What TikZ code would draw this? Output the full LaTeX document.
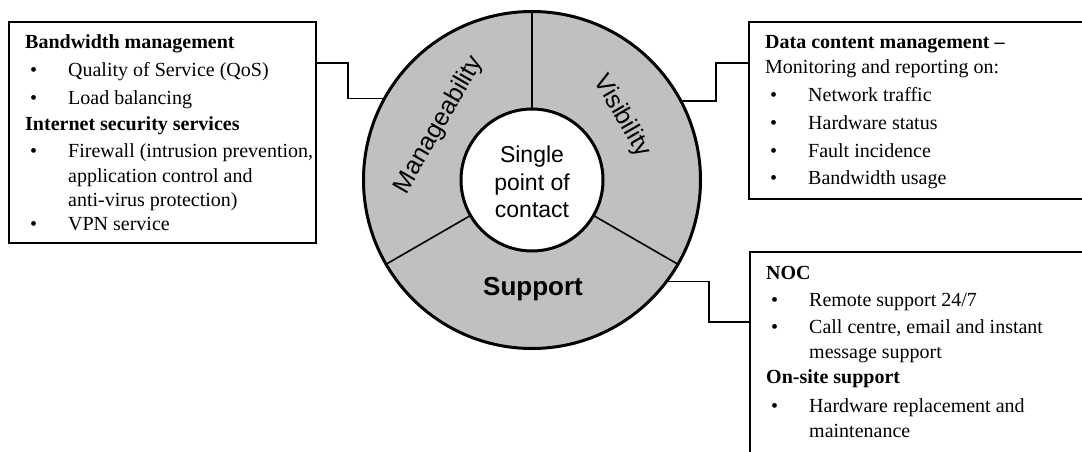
\documentclass[tikz,border=0pt]{standalone}
\usepackage{fontspec}
\setmainfont{Liberation Serif}
\setsansfont{Liberation Sans}
\definecolor{ringgray}{RGB}{192,192,192}
% bulleted entry: bullet, then the text at a fixed indent
\newcommand{\itm}[1]{\makebox[43pt][l]{\hspace{5pt}\textbullet}#1}
\newcommand{\cnt}[1]{\hspace*{43pt}#1}
\begin{document}
\begin{tikzpicture}[x=1pt,y=-1pt,
  box/.style={draw=black, line width=1.5, rectangle, inner sep=0, outer sep=0, anchor=north west},
  conn/.style={draw=black, line width=1.5},
  divline/.style={draw=black, line width=1.6},
  hd/.style={anchor=base west, inner sep=0, font=\fontsize{20}{23}\selectfont\bfseries},
  tx/.style={anchor=base west, inner sep=0, font=\fontsize{20}{23}\selectfont},
  ringlbl/.style={inner sep=0, font=\sffamily\fontsize{25}{29}\selectfont},
  disc/.style={circle, draw=black, line width=3, inner sep=0, outer sep=0},
]
\useasboundingbox (0,0) rectangle (1082,452);
\clip (0,0) rectangle (1082,452);

% outer ring and centre disc
\node[disc, fill=ringgray, minimum size=337] (ring) at (532,180) {};
\node[disc, fill=white, minimum size=142] (hub) at (532,180) {};
\draw[divline] (hub.90) -- (ring.90);
\draw[divline] (hub.210) -- (ring.210);
\draw[divline] (hub.330) -- (ring.330);

% ring labels
\node[ringlbl, rotate=60] (mlbl) at (439,125) {Manageability};
\node[ringlbl, rotate=-60] (vlbl) at (622,116) {Visibility};
\node[ringlbl, font=\sffamily\bfseries\fontsize{26}{30}\selectfont, anchor=base] (slbl) at (533,295) {Support};
\node[inner sep=0, align=center, font=\sffamily\fontsize{23}{27.5}\selectfont] (hubtxt) at (532,182) {Single\\point of\\contact};

% left box: manageability
\node[box, minimum width=307, minimum height=221] (lbox) at (9,22) {};
\node[hd] (l1) at (25,49) {Bandwidth management};
\node[tx] (l2) at (25,77) {\itm{Quality of Service (QoS)}};
\node[tx] (l3) at (25,104) {\itm{Load balancing}};
\node[hd] (l4) at (25,130) {Internet security services};
\node[tx] (l5) at (25,157) {\itm{Firewall (intrusion prevention,}};
\node[tx] (l6) at (25,182) {\cnt{application control and}};
\node[tx] (l7) at (25,206) {\cnt{anti-virus protection)}};
\node[tx] (l8) at (25,230) {\itm{VPN service}};

% top right box: visibility
\node[box, minimum width=360, minimum height=177] (tbox) at (749,22) {};
\node[hd] (t1) at (765,49) {Data content management –};
\node[tx] (t2) at (765,74) {Monitoring and reporting on:};
\node[tx] (t3) at (765,102) {\itm{Network traffic}};
\node[tx] (t4) at (765,129) {\itm{Hardware status}};
\node[tx] (t5) at (765,157) {\itm{Fault incidence}};
\node[tx] (t6) at (765,184) {\itm{Bandwidth usage}};

% bottom right box: support
\node[box, minimum width=360, minimum height=260] (bbox) at (750,252) {};
\node[hd] (b1) at (766,279) {NOC};
\node[tx] (b2) at (766,306) {\itm{Remote support 24/7}};
\node[tx] (b3) at (766,333) {\itm{Call centre, email and instant}};
\node[tx] (b4) at (766,358) {\cnt{message support}};
\node[hd] (b5) at (766,383) {On-site support};
\node[tx] (b6) at (766,412) {\itm{Hardware replacement and}};
\node[tx] (b7) at (766,437) {\cnt{maintenance}};

% stepped connectors from the ring to the boxes
\coordinate (lk) at (348,63);
\coordinate (tk) at (716,63);
\coordinate (bk) at (709,322);
\draw[conn] (lk -| lbox.east) -- (lk) |- (ring.151);
\draw[conn] (ring.28) -| (tk) -- (tk -| tbox.west);
\draw[conn] (ring.-37) -| (bk) -- (bk -| bbox.west);
\end{tikzpicture}
\end{document}
